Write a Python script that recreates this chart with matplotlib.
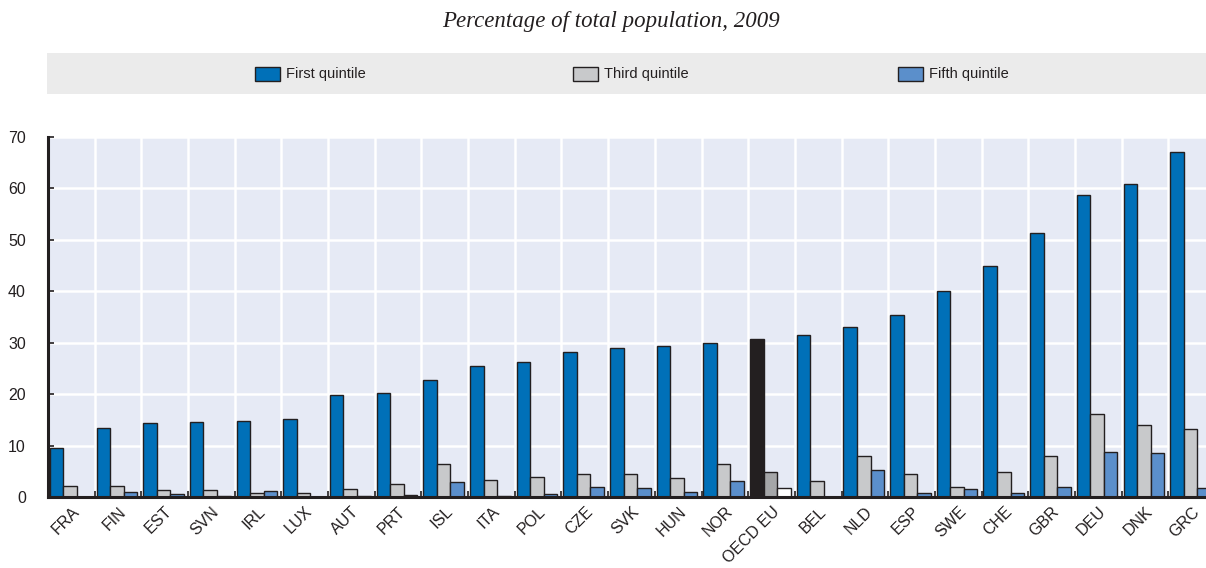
import matplotlib
matplotlib.use("Agg")
import matplotlib.pyplot as plt
from matplotlib.patches import Rectangle
import numpy as np

countries = ["FRA", "FIN", "EST", "SVN", "IRL", "LUX", "AUT", "PRT", "ISL", "ITA",
             "POL", "CZE", "SVK", "HUN", "NOR", "OECD EU", "BEL", "NLD", "ESP", "SWE",
             "CHE", "GBR", "DEU", "DNK", "GRC"]
first_q = [9.5, 13.5, 14.4, 14.6, 14.8, 15.2, 19.8, 20.2, 22.7, 25.5,
           26.3, 28.1, 29.0, 29.4, 29.9, 30.7, 31.5, 33.0, 35.3, 40.0,
           45.0, 51.3, 58.7, 60.9, 67.1]
third_q = [2.2, 2.1, 1.3, 1.3, 0.7, 0.7, 1.5, 2.6, 6.5, 3.4,
           3.8, 4.5, 4.5, 3.7, 6.5, 4.9, 3.1, 7.9, 4.4, 1.9,
           4.9, 7.9, 16.1, 14.0, 13.2]
fifth_q = [0.0, 0.9, 0.5, 0.2, 1.2, 0.0, 0.1, 0.3, 3.0, 0.1,
           0.5, 1.9, 1.8, 0.9, 3.2, 1.8, 0.0, 5.3, 0.7, 1.5,
           0.7, 2.0, 8.8, 8.5, 1.8]
series_names = ["First quintile", "Third quintile", "Fifth quintile"]
yticks = [0, 10, 20, 30, 40, 50, 60, 70]
title = "Percentage of total population, 2009"

W, H = 1206, 568
fig = plt.figure(figsize=(W / 100, H / 100), dpi=100)

col_first = "#0070b8"
col_third = "#c8c9cb"
col_fifth = "#5b8fcb"
edge = "#231f20"
hl_first = "#231f20"
hl_third = "#a5a6a8"
hl_fifth = "#ffffff"

left = 48 / W
bottom = 1 - 497 / H
height = 360 / H
width = (46.68 * 25) / W
ax = fig.add_axes([left, bottom, width, height])
ax.set_facecolor("#e6eaf5")

n = len(countries)
x = np.arange(n)
bw = 0.29
off = 0.04
hl = countries.index("OECD EU")
c1 = [hl_first if i == hl else col_first for i in range(n)]
c3 = [hl_third if i == hl else col_third for i in range(n)]
c5 = [hl_fifth if i == hl else col_fifth for i in range(n)]
ax.bar(x + off, first_q, width=bw, align="edge", color=c1, edgecolor=edge, linewidth=1.0, zorder=3)
ax.bar(x + off + bw, third_q, width=bw, align="edge", color=c3, edgecolor=edge, linewidth=1.0, zorder=3)
ax.bar(x + off + 2 * bw, fifth_q, width=bw, align="edge", color=c5, edgecolor=edge, linewidth=1.0, zorder=3)

ax.set_xlim(0, n)
ax.set_ylim(0, 70)
ax.set_yticks(yticks)
ax.set_yticklabels([str(v) for v in yticks], fontsize=11.5, color="#231f20", family="Liberation Sans")
ax.tick_params(axis="y", direction="in", length=4, width=1.2, color="#231f20", pad=16)

ax.set_xticks(x + 0.5)
ax.set_xticklabels(countries, rotation=45, ha="right", rotation_mode="anchor",
                   fontsize=11.5, color="#231f20", family="Liberation Sans")
ax.tick_params(axis="x", which="major", length=0, pad=5)
ax.set_xticks(np.arange(1, n), minor=True)
ax.tick_params(axis="x", which="minor", direction="in", length=4, width=1.2, color="#231f20")

ax.grid(True, axis="y", color="white", linewidth=1.8, zorder=1)
ax.grid(True, axis="x", which="minor", color="white", linewidth=1.8, zorder=1)
ax.set_axisbelow(True)
for s in ["top", "right"]:
    ax.spines[s].set_visible(False)
for s in ["left", "bottom"]:
    ax.spines[s].set_color("#231f20")
    ax.spines[s].set_linewidth(2.2)
    ax.spines[s].set_zorder(4)

# Title
fig.text(611 / W, 1 - 22 / H, title, ha="center", va="center", fontsize=16.5,
         style="italic", family="Liberation Serif", color="#231f20")

# Legend band
fig.patches.append(Rectangle((47 / W, 1 - 94 / H), (W - 47) / W, 41 / H,
                             transform=fig.transFigure, facecolor="#ebebeb",
                             edgecolor="none", zorder=0))
leg_cols = [col_first, col_third, col_fifth]
leg_x = [255, 573, 898]
for name, c, px in zip(series_names, leg_cols, leg_x):
    fig.patches.append(Rectangle((px / W, 1 - 81 / H), 25 / W, 14 / H,
                                 transform=fig.transFigure, facecolor=c,
                                 edgecolor=edge, linewidth=1.0, zorder=1))
    fig.text((px + 31) / W, 1 - 74 / H, name, ha="left", va="center",
             fontsize=10.5, family="Liberation Sans", color="#231f20")

fig.savefig("out.png", dpi=100)
